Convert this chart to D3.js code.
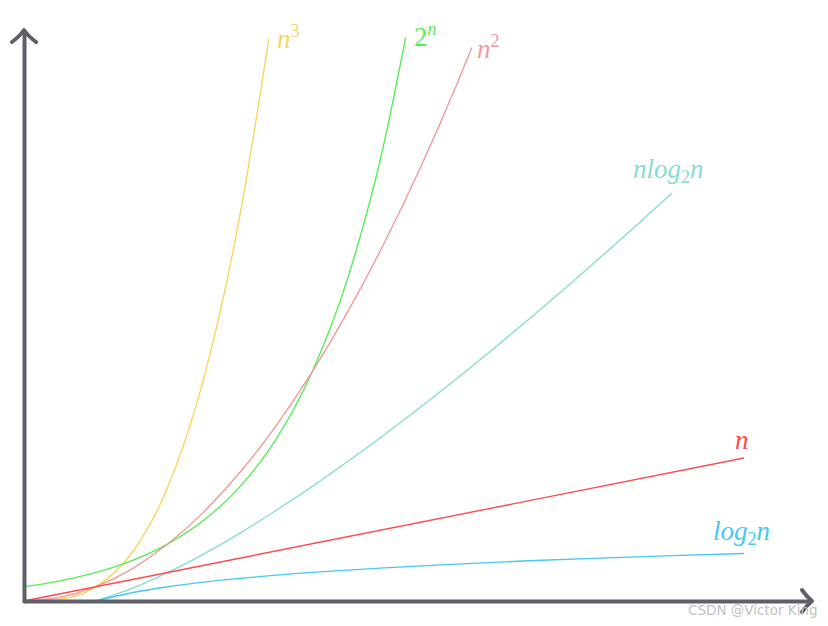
<!DOCTYPE html>
<html><head><meta charset="utf-8">
<script src="https://cdn.jsdelivr.net/npm/d3@7"></script>
<style>body{margin:0;background:#fff}svg{display:block}
.lbl{font-family:"Liberation Serif","Times New Roman","DejaVu Serif",serif;}
</style>
</head><body>
<script>
const xCube = [0,0.5,1,1.5,2,2.5,3,3.4];
const yCube = [0,0.125,1,3.375,8,15.625,27,39.3];
const xExp = [0,0.5,1,1.5,2,2.5,3,3.5,4,4.5,5,5.3];
const yExp = [1,1.41,2,2.83,4,5.66,8,11.31,16,22.63,32,39.4];
const xSq = [0,0.5,1,1.5,2,2.5,3,3.5,4,4.5,5,5.5,6,6.22];
const ySq = [0,0.25,1,2.25,4,6.25,9,12.25,16,20.25,25,30.25,36,38.7];
const xNlog = [1,1.5,2,2.5,3,3.5,4,4.5,5,5.5,6,6.5,7,7.5,8,8.5,9];
const yNlog = [0,0.88,2,3.3,4.75,6.33,8,9.77,11.61,13.53,15.51,17.55,19.65,21.8,24,26.24,28.53];
const xLin = [0,10];
const yLin = [0,10];
const xLog = [1,1.5,2,2.5,3,3.5,4,5,6,7,8,9,10];
const yLog = [0,0.58,1,1.32,1.58,1.81,2,2.32,2.58,2.81,3,3.17,3.32];
const seriesNames = ["n3","2n","n2","nlog2n","n","log2n"];
const seriesColors = ["#fdd35f","#55ee55","#f29a9a","#86dcd2","#ff4a4a","#45c8f2"];

const W = 828, H = 626;
const svg = d3.select("body").append("svg").attr("width", W).attr("height", H);
const x = d3.scaleLinear().domain([0,10]).range([24,744]);
const y = d3.scaleLinear().domain([0,40]).range([601,29]);

const data = [
  [xCube,yCube],[xExp,yExp],[xSq,ySq],[xNlog,yNlog],[xLin,yLin],[xLog,yLog]
];
const line = d3.line().x(d=>x(d[0])).y(d=>y(d[1])).curve(d3.curveMonotoneX);
data.forEach((s,i)=>{
  const pts = s[0].map((v,j)=>[v,s[1][j]]);
  svg.append("path").attr("d", line(pts)).attr("fill","none")
    .attr("stroke", seriesColors[i]).attr("stroke-width",1.4);
});

// Axes
const axisColor = "#5f5f6b";
svg.append("g").attr("transform",`translate(0,${y(0)})`)
  .call(d3.axisBottom(d3.scaleLinear().domain([0,1]).range([x(0), 810])).tickValues([]).tickSizeOuter(0));
svg.append("g").attr("transform",`translate(${x(0)},0)`)
  .call(d3.axisLeft(d3.scaleLinear().domain([0,1]).range([y(0), 32])).tickValues([]).tickSizeOuter(0));
svg.selectAll(".domain").attr("stroke",axisColor).attr("stroke-width",4).attr("stroke-linecap","round");
svg.append("path").attr("d",`M${x(0)-12},${42} Q${x(0)-4},${36} ${x(0)},${30} Q${x(0)+4},${36} ${x(0)+12},${42}`)
  .attr("fill","none").attr("stroke",axisColor).attr("stroke-width",4).attr("stroke-linecap","round").attr("stroke-linejoin","round");
svg.append("path").attr("d",`M802,${y(0)-11} Q807,${y(0)-4} 812,${y(0)} Q807,${y(0)+4} 802,${y(0)+11}`)
  .attr("fill","none").attr("stroke",axisColor).attr("stroke-width",4).attr("stroke-linecap","round").attr("stroke-linejoin","round");

// Labels
function label(px, py, parts, color){
  const t = svg.append("text").attr("class","lbl").attr("x",px).attr("y",py).attr("fill",color)
    .attr("font-size",27);
  parts.forEach(p=>{
    const ts = t.append("tspan").text(p.t);
    if(p.it) ts.attr("font-style","italic");
    if(p.sup) ts.attr("font-size",18).attr("dy",-11);
    if(p.sub) ts.attr("font-size",18).attr("dy",5);
    if(p.back) ts.attr("dy",p.back);
  });
}
label(277,48,[{t:"n",it:true},{t:"3",sup:true}],seriesColors[0]);
label(414,46,[{t:"2"},{t:"n",it:true,sup:true}],seriesColors[1]);
label(477,58,[{t:"n",it:true},{t:"2",sup:true}],seriesColors[2]);
label(633,178,[{t:"nlog",it:true},{t:"2",sub:true},{t:"n",it:true,back:-5}],seriesColors[3]);
label(735,449,[{t:"n",it:true}],seriesColors[4]);
label(713,540,[{t:"log",it:true},{t:"2",sub:true},{t:"n",it:true,back:-5}],seriesColors[5]);

svg.append("text").attr("x",688).attr("y",615).attr("fill","#c2c2c2")
  .attr("font-family","'DejaVu Sans', sans-serif").attr("font-size",13.5).text("CSDN @Victor King");
</script>
</body></html>
